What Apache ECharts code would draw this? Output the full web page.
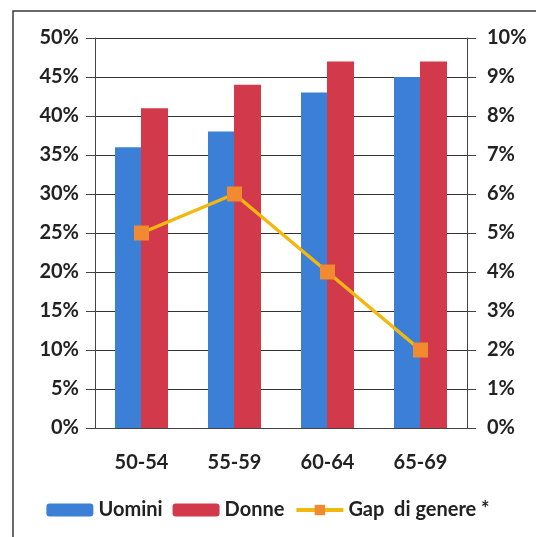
<!DOCTYPE html>
<html>
<head>
<meta charset="utf-8">
<script src="https://cdn.jsdelivr.net/npm/echarts@6/dist/echarts.min.js"></script>
<style>
  html, body { margin: 0; padding: 0; background: #fff; }
  #chart { width: 536px; height: 537px; }
</style>
</head>
<body>
<div id="chart"></div>
<script>
var categories = ['50-54', '55-59', '60-64', '65-69'];
var uomini = [36, 38, 43, 45];
var donne = [41, 44, 47, 47];
var gap = [5, 6, 4, 2];

var font = 'Lato, "Open Sans", sans-serif';
var labelStyle = { color: '#222', fontSize: 20, fontWeight: 'bold', fontFamily: font };

var chart = echarts.init(document.getElementById('chart'));
chart.setOption({
    animation: false,
    backgroundColor: '#fff',
    graphic: [{
        type: 'rect',
        shape: { x: 13, y: 11, width: 700, height: 700 },
        style: { fill: 'none', stroke: '#3a3a3a', lineWidth: 1.5 }
    }],
    grid: { left: 95, right: 69, top: 38, bottom: 109 },
    legend: {
        bottom: 12,
        left: 'center',
        itemWidth: 47,
        itemHeight: 13,
        itemGap: 10,
        textStyle: labelStyle,
        data: ['Uomini', 'Donne', {
            name: 'Gap  di genere *',
            lineStyle: { width: 4 }
        }]
    },
    xAxis: {
        type: 'category',
        data: categories,
        axisLine: { lineStyle: { color: '#444', width: 1 } },
        axisTick: { show: false },
        axisLabel: Object.assign({ margin: 25 }, labelStyle)
    },
    yAxis: [{
        type: 'value',
        min: 0, max: 50, interval: 5,
        axisLine: { show: true, lineStyle: { color: '#444' } },
        axisTick: { show: true, length: 9, lineStyle: { color: '#444' } },
        splitLine: { lineStyle: { color: '#333', width: 1 } },
        axisLabel: Object.assign({ margin: 16, formatter: '{value}%' }, labelStyle)
    }, {
        type: 'value',
        min: 0, max: 10, interval: 1,
        axisLine: { show: true, lineStyle: { color: '#444' } },
        axisTick: { show: true, length: 9, lineStyle: { color: '#444' } },
        splitLine: { show: false },
        axisLabel: Object.assign({ margin: 20, formatter: '{value}%' }, labelStyle)
    }],
    series: [{
        name: 'Uomini',
        type: 'bar',
        data: uomini,
        barWidth: 26,
        barGap: '0%',
        itemStyle: { color: '#3b7fd6' }
    }, {
        name: 'Donne',
        type: 'bar',
        data: donne,
        barWidth: 27,
        itemStyle: { color: '#d2394a' }
    }, {
        name: 'Gap  di genere *',
        type: 'line',
        yAxisIndex: 1,
        data: gap,
        symbol: 'rect',
        symbolSize: 15,
        lineStyle: { color: '#f2b80f', width: 3.5 },
        itemStyle: { color: '#f28a30' }
    }]
});
window.addEventListener('resize', function () {
    chart.resize();
});
</script>
</body>
</html>
